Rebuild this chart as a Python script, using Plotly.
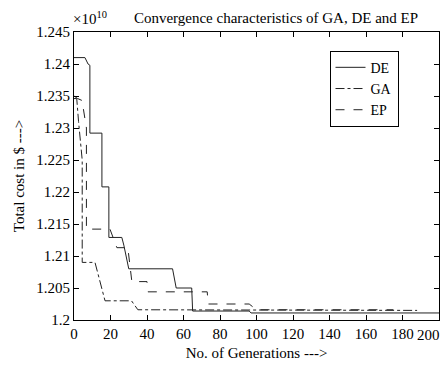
import plotly.graph_objects as go

# Data (generation, total cost)
de_gen = [0, 6, 7.7, 8.7, 8.7, 15.3, 15.3, 19.1, 19.1, 26.2, 27.3, 30, 54, 56, 64.5, 65, 96, 97, 200]
de_cost = [1.2410e10, 1.2410e10, 1.2400e10, 1.2398e10, 1.2292e10, 1.2292e10, 1.2208e10, 1.2208e10,
           1.2129e10, 1.2129e10, 1.2117e10, 1.2080e10, 1.2080e10, 1.2050e10, 1.2050e10, 1.2014e10,
           1.2014e10, 1.2011e10, 1.2011e10]

ga_gen = [0, 1.5, 2.5, 3.5, 4.5, 4.5, 11.5, 17, 31.5, 35, 188]
ga_cost = [1.2346e10, 1.2346e10, 1.2310e10, 1.2285e10, 1.2250e10, 1.2090e10, 1.2090e10, 1.2030e10,
           1.2030e10, 1.2016e10, 1.2015e10]

ep_gen = [0, 2, 4.4, 5, 6, 6.8, 6.8, 19.7, 23.5, 29.5, 31.7, 40, 40.5, 73, 73.5, 96, 100, 175]
ep_cost = [1.2350e10, 1.2346e10, 1.2343e10, 1.2331e10, 1.2315e10, 1.2300e10, 1.2142e10, 1.2142e10,
           1.2113e10, 1.2113e10, 1.2060e10, 1.2060e10, 1.2044e10, 1.2044e10, 1.2025e10, 1.2025e10,
           1.2016e10, 1.2016e10]

x_ticks = [0, 20, 40, 60, 80, 100, 120, 140, 160, 180, 200]
y_ticks = [1.2e10, 1.205e10, 1.21e10, 1.215e10, 1.22e10, 1.225e10, 1.23e10, 1.235e10, 1.24e10, 1.245e10]
y_tick_text = ["1.2", "1.205", "1.21", "1.215", "1.22", "1.225", "1.23", "1.235", "1.24", "1.245"]

FONT = "Liberation Serif"
INK = "#222222"

fig = go.Figure()
fig.add_trace(go.Scatter(x=de_gen, y=de_cost, mode="lines", name="DE",
                         line=dict(color=INK, width=1, dash="solid")))
fig.add_trace(go.Scatter(x=ga_gen, y=ga_cost, mode="lines", name="GA",
                         line=dict(color=INK, width=1, dash="dashdot")))
fig.add_trace(go.Scatter(x=ep_gen, y=ep_cost, mode="lines", name="EP",
                         line=dict(color=INK, width=1, dash="dash")))

fig.update_layout(
    width=446, height=365,
    margin=dict(l=74, r=6, t=32, b=39),
    paper_bgcolor="white", plot_bgcolor="white",
    font=dict(family=FONT, size=15, color="black"),
    title=dict(text="Convergence characteristics of GA, DE and EP",
               x=276 / 446, xanchor="center", y=1 - 18 / 365, yanchor="middle",
               font=dict(family=FONT, size=15, color="black")),
    showlegend=True,
    legend=dict(x=0.70, y=0.935, xanchor="left", yanchor="top",
                bgcolor="white", bordercolor="black", borderwidth=1,
                font=dict(family=FONT, size=14, color="black"),
                itemwidth=30, tracegroupgap=0),
    xaxis=dict(range=[0, 200], tickvals=x_ticks[:-1], ticks="inside", ticklen=5,
               tickcolor="black", showline=True, linecolor="black", linewidth=1,
               mirror="allticks", showgrid=False, zeroline=False,
               tickfont=dict(family=FONT, size=15),
               title=dict(text="No. of Generations --->", standoff=6,
                          font=dict(family=FONT, size=15))),
    yaxis=dict(range=[1.2e10, 1.245e10], tickvals=y_ticks, ticktext=y_tick_text,
               ticks="inside", ticklen=5, tickcolor="black", showline=True,
               linecolor="black", linewidth=1, mirror="allticks", showgrid=False,
               zeroline=False, tickfont=dict(family=FONT, size=15),
               title=dict(text="Total cost in $ --->", standoff=8,
                          font=dict(family=FONT, size=15))),
)

# Last x tick label, shifted left so it stays inside the window like the reference
fig.add_annotation(x=200, xref="x", y=0, yref="paper", text=str(x_ticks[-1]),
                   showarrow=False, xanchor="right", yanchor="top", xshift=3, yshift=-5,
                   font=dict(family=FONT, size=15, color="black"))

# Exponent multiplier
fig.add_annotation(x=0, xref="paper", y=1, yref="paper", text="×10<sup>10</sup>",
                   showarrow=False, xanchor="left", yanchor="bottom", xshift=-3, yshift=3,
                   font=dict(family=FONT, size=15, color="black"))

fig.write_html("out.html")
